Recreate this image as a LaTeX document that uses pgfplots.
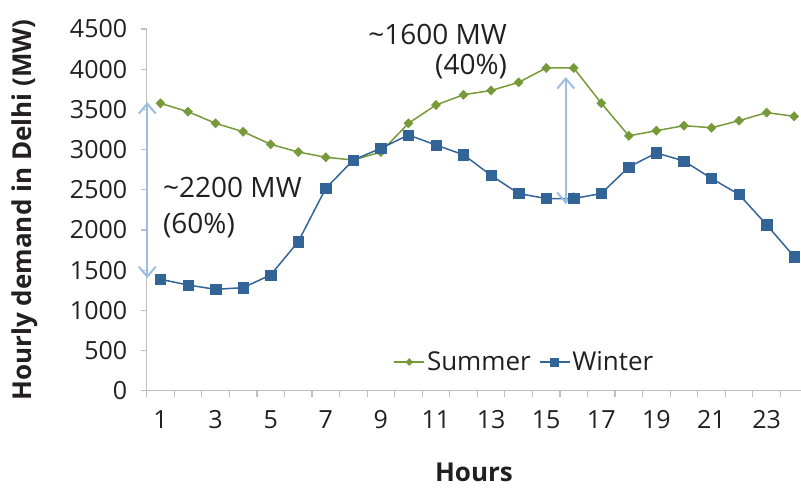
\documentclass[border=0pt]{standalone}
\usepackage{fontspec}
\setmainfont{Open Sans}
\usepackage{pgfplots}
\pgfplotsset{compat=1.18}
\usetikzlibrary{arrows.meta}
\definecolor{summer}{RGB}{118,154,58}
\definecolor{winter}{RGB}{50,100,152}
\definecolor{arr}{RGB}{157,190,226}
\definecolor{axgray}{RGB}{191,191,191}
\definecolor{txt}{RGB}{35,31,32}
\begin{document}
\begin{tikzpicture}
\begin{axis}[
  at={(146.7pt,-390.7pt)}, anchor=south west,
  scale only axis, width=654.6pt, height=361.7pt,
  xmin=0.5, xmax=24.26, ymin=0, ymax=4500,
  clip=false,
  axis lines=left, axis line style={axgray, line width=1.2pt, -},
  xtick={1,3,...,23}, ytick={0,500,...,4500},
  minor xtick={0.5,1.5,...,23.5}, minor ytick={0,500,...,4500},
  major tick length=0pt, minor tick length=6pt, tick align=outside,
  minor tick style={axgray, line width=1.2pt},
  tick label style={font=\fontsize{25}{30}\selectfont, text=txt},
  yticklabel style={xshift=-16pt},
  xticklabel style={yshift=-16pt},
  /pgf/number format/assume math mode=true,
  /pgf/number format/set thousands separator={},
  xlabel={Hours},
  ylabel={Hourly demand in Delhi (MW)},
  xlabel style={at={(axis description cs:0.5,-0.227)}, anchor=center, font=\bfseries\fontsize{26}{31}\selectfont, text=txt},
  ylabel style={at={(axis description cs:-0.186,0.5)}, anchor=center, font=\bfseries\fontsize{26}{31}\selectfont, text=txt},
  legend columns=2,
  legend style={at={(0.577,0.0793)}, anchor=center, draw=none, fill=none,
    font=\fontsize{26}{31}\selectfont, text=txt,
    /tikz/every even column/.append style={column sep=6pt}},
  legend image code/.code={\draw[mark repeat=2,mark phase=2,#1,every mark/.append style={scale=0.75}] plot coordinates {(0pt,0pt) (15pt,0pt) (30pt,0pt)};},
]
\addplot[summer, line width=1.5pt, mark=diamond*, mark size=4.6pt, mark options={solid, fill=summer, line width=0.5pt, xscale=1.3}] coordinates {
(1,3575) (2,3471) (3,3327) (4,3222) (5,3065) (6,2970) (7,2904) (8,2870)
(9,2970) (10,3327) (11,3554) (12,3682) (13,3735) (14,3836) (15,4015) (16,4015)
(17,3577) (18,3171) (19,3235) (20,3297) (21,3272) (22,3359) (23,3460) (24,3414)};
\addlegendentry{Summer}
\addplot[winter, line width=1.5pt, mark=square*, mark size=5.2pt, mark options={solid, fill=winter, line width=0.5pt}] coordinates {
(1,1386) (2,1315) (3,1261) (4,1282) (5,1440) (6,1854) (7,2518) (8,2870)
(9,3016) (10,3181) (11,3057) (12,2935) (13,2679) (14,2453) (15,2391) (16,2391)
(17,2453) (18,2783) (19,2958) (20,2858) (21,2641) (22,2441) (23,2065) (24,1668)};
\addlegendentry{Winter}
\draw[arr, line width=2pt, {Straight Barb[length=10pt,width=17pt]}-{Straight Barb[length=10pt,width=17pt]}] (axis cs:0.52,1400) -- (axis cs:0.52,3590);
\draw[arr, line width=2pt, {Straight Barb[length=10pt,width=17pt]}-{Straight Barb[length=10pt,width=17pt]}] (axis cs:15.71,2322) -- (axis cs:15.71,3902);
\node[anchor=base west, inner sep=0pt, font=\fontsize{28}{34}\selectfont, text=txt] at (axis cs:1.09,2403) {\textasciitilde 2200 MW};
\node[anchor=base west, inner sep=0pt, font=\fontsize{28}{34}\selectfont, text=txt] at (axis cs:1.09,1959) {(60\%)};
\node[anchor=base east, inner sep=0pt, font=\fontsize{28}{34}\selectfont, text=txt] at (axis cs:13.58,4310) {\textasciitilde 1600 MW};
\node[anchor=base east, inner sep=0pt, font=\fontsize{28}{34}\selectfont, text=txt] at (axis cs:13.58,3928) {(40\%)};
\end{axis}
\pgfresetboundingbox
\useasboundingbox (0pt,0pt) rectangle (801pt,-489pt);
\end{tikzpicture}
\end{document}
